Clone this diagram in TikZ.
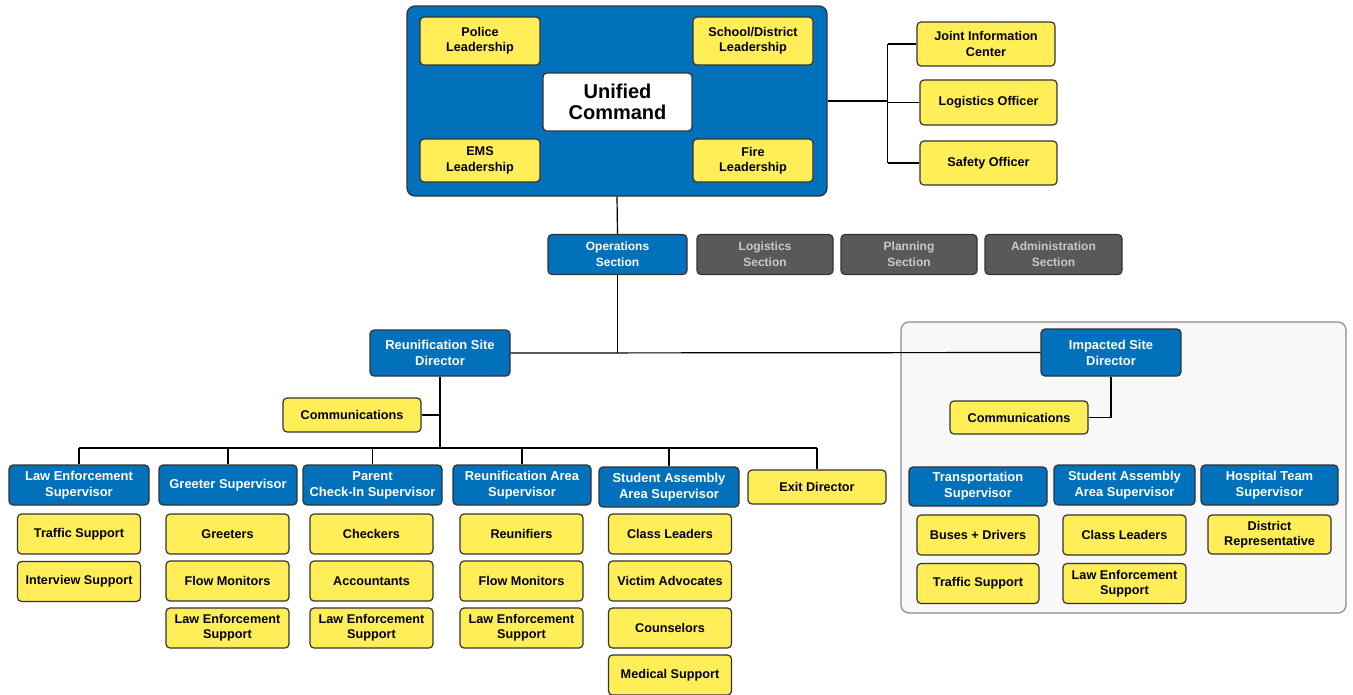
\documentclass[tikz,border=0pt]{standalone}
\usepackage{fontspec}
\setmainfont{Liberation Sans}
\usetikzlibrary{positioning}
\definecolor{icsblue}{HTML}{0071BA}
\definecolor{icsyellow}{HTML}{FFEE58}
\definecolor{icsgray}{HTML}{595959}
\definecolor{icstext}{HTML}{CACACA}
\definecolor{edge}{HTML}{333333}
\definecolor{panel}{HTML}{F8F8F8}
\definecolor{panelline}{HTML}{8C8C8C}
\tikzset{
  dims/.style 2 args={minimum width=#1*0.75pt, minimum height=#2*0.75pt},
  box/.style={draw=edge, line width=0.9pt, rounded corners=3pt, align=center, inner sep=1pt},
  role/.style={box, fill=icsyellow, font=\fontsize{9.5}{11.5}\selectfont\bfseries, dims={123}{40}},
  lead/.style={box, fill=icsblue, text=white, font=\fontsize{9.7}{12}\selectfont\bfseries, dims={139}{40}},
  section/.style={box, fill=icsgray, text=icstext, font=\fontsize{9}{12}\selectfont\bfseries, dims={137}{40}},
  link/.style={draw=black, line width=0.9pt}
}

\begin{document}
\begin{tikzpicture}[x=0.75pt, y=-0.75pt]
\useasboundingbox (0,0) rectangle (1353,694);

% impacted site panel
\draw[draw=panelline, fill=panel, line width=0.9pt, rounded corners=6pt] (901,322) rectangle (1346,613);

% unified command
\node[box, fill=icsblue, dims={420}{190}, rounded corners=6pt, line width=1pt] (uc) at (617,101) {};
\node[role, dims={120}{48}] (police) at (480,41) {Police\\Leadership};
\node[role, dims={120}{48}] (school) at (753,41) {School/District\\Leadership};
\node[box, fill=white, dims={149}{58}, font=\fontsize{15}{16}\selectfont\bfseries] (unified) at (617.5,102) {Unified\\Command};
\node[role, dims={120}{43}] (ems) at (480,160.5) {EMS\\Leadership};
\node[role, dims={120}{43}] (fire) at (753,160.5) {Fire\\Leadership};

% command staff
\node[role, dims={138}{44}] (jic) at (986,44) {Joint Information\\Center};
\node[role, dims={137}{45}] (logoff) at (988.5,102.5) {Logistics Officer};
\node[role, dims={137}{44}] (safety) at (988.5,163) {Safety Officer};
\draw[link] (uc.east) -- ++(60,0) coordinate (staffbus);
\draw[link] (staffbus |- jic.west) -- (staffbus |- safety.west);
\foreach \n in {jic,logoff,safety} {\draw[link] (staffbus |- \n.west) -- (\n.west);}

% sections
\node[lead, font=\fontsize{9}{12}\selectfont\bfseries] (ops) at (617.5,254.5) {Operations\\Section};
\node[section, dims={136}{40}] (logsec) at (765,254.5) {Logistics\\Section};
\node[section, dims={136}{40}] (plansec) at (909,254.5) {Planning\\Section};
\node[section] (adminsec) at (1053.5,254.5) {Administration\\Section};
\draw[link] (uc.south) -- (ops.north);

% directors
\node[lead, dims={140}{46}] (rsd) at (440,353) {Reunification Site\\Director};
\node[lead, dims={140}{47}] (isd) at (1111,352.5) {Impacted Site\\Director};
\draw[link] (rsd.east) -- (isd.west);
\draw[link] (ops.south) -- (ops.south |- rsd.east);

% reunification site
\node[role, dims={138}{34}] (rsdcomm) at (352,415) {Communications};
\node[lead, dims={140}{40}] (lesup) at (79,485) {Law Enforcement\\Supervisor};
\node[lead, dims={138}{40}] (greetsup) at (228,485) {Greeter Supervisor};
\node[lead] (parentsup) at (372.5,485) {Parent\\Check-In Supervisor};
\node[lead, dims={138}{40}] (reunsup) at (522,485) {Reunification Area\\Supervisor};
\node[lead, dims={140}{40}] (studsup) at (669,487) {Student Assembly\\Area Supervisor};
\node[role, dims={138}{34}] (exitdir) at (817,487) {Exit Director};
\coordinate (busline) at (0,448);
\draw[link] (rsd.south) -- (rsd.south |- busline);
\draw[link] (rsdcomm.east) -- (rsd.south |- rsdcomm.east);
\draw[link] (lesup.north |- busline) -- (exitdir.north |- busline);
\foreach \n in {lesup,greetsup,parentsup,reunsup,studsup,exitdir} {\draw[link] (\n.north |- busline) -- (\n.north);}

\foreach \t [count=\i from 0] in {Traffic Support, Interview Support}
  {\node[role] (le\i) at (79,534+47.5*\i) {\t};}
\foreach \t [count=\i from 0] in {Greeters, Flow Monitors, {Law Enforcement\\Support}}
  {\node[role] (greet\i) at (227.5,534+47*\i) {\t};}
\foreach \t [count=\i from 0] in {Checkers, Accountants, {Law Enforcement\\Support}}
  {\node[role] (parent\i) at (371.5,534+47*\i) {\t};}
\foreach \t [count=\i from 0] in {Reunifiers, Flow Monitors, {Law Enforcement\\Support}}
  {\node[role] (reun\i) at (521.5,534+47*\i) {\t};}
\foreach \t [count=\i from 0] in {Class Leaders, Victim Advocates, Counselors, Medical Support}
  {\node[role] (stud\i) at (670,534+47*\i) {\t};}

% impacted site
\node[role, dims={138}{33}] (isdcomm) at (1019,417.5) {Communications};
\draw[link] (isd.south) |- (isdcomm.east);
\node[lead, dims={138}{39}] (transsup) at (978,486.5) {Transportation\\Supervisor};
\node[lead, dims={141}{40}] (studsupb) at (1124.5,485) {Student Assembly\\Area Supervisor};
\node[lead, dims={137}{40}] (hospsup) at (1269.5,485) {Hospital Team\\Supervisor};
\foreach \t [count=\i from 0] in {Buses + Drivers, Traffic Support}
  {\node[role, dims={122}{40}] (trans\i) at (978,535+48.5*\i) {\t};}
\foreach \t [count=\i from 0] in {Class Leaders, {Law Enforcement\\Support}}
  {\node[role] (studb\i) at (1124.5,535+48.5*\i) {\t};}
\node[role, dims={123}{39}] (hosp0) at (1269.5,534.5) {District\\Representative};
\end{tikzpicture}
\end{document}
